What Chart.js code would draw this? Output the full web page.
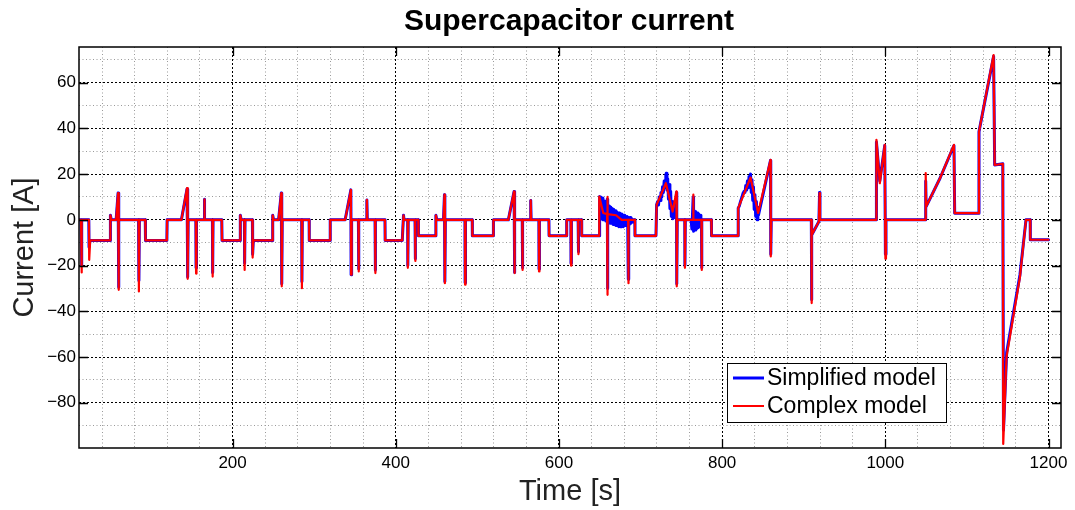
<!DOCTYPE html>
<html>
<head>
<meta charset="utf-8">
<script src="https://cdn.jsdelivr.net/npm/chart.js@4.4.0/dist/chart.umd.min.js"></script>
<style>
  html, body { margin: 0; padding: 0; background: #fff; }
  canvas { display: block; }
</style>
</head>
<body>
<canvas id="chart" width="1075" height="510"></canvas>
<script>
// [time s, current A] for the complex supercapacitor model
const complexModel = [
  [12,0],[14.3,0],[14.8,-23],[15.4,0],[24,0],[24.3,-17.5],[25.5,-9],[50,-9],[50.3,2],[51.3,0],
  [57.3,0],[59.7,11.7],[60.2,-30.6],[60.8,0],[84.8,0],[85.2,-31.3],[85.8,0],[93,0],[93.3,-9],[119.5,-9],
  [119.8,0],[137.3,0],[144.2,13.9],[145,-25.8],[145.6,0],[155,0],[155.3,-23.5],[155.8,0],[165,0],[165.4,9],
  [165.9,0],[175.3,0],[175.6,-24.8],[176.1,0],[186.8,0],[187.1,-9],[209.3,-9],[209.5,2],[210.5,0],[214.5,0],
  [214.8,-21.9],[215.3,0],[224.3,0],[224.6,-16.5],[225.4,-9],[249,-9],[249.2,2],[250.2,0],[256.4,0],[259.7,11.7],
  [260.3,-29.1],[260.9,0],[284.7,0],[285,-29.9],[285.5,0],[293.8,0],[294,-9],[319.5,-9],[319.7,0],[338,0],
  [345,13.1],[345.3,-24],[345.9,0],[354.2,0],[354.4,-22.6],[354.9,0],[364.4,0],[364.6,8.7],[365.1,0],[374.6,0],
  [374.8,-23.3],[375.3,0],[386.8,0],[387,-9],[408,-9],[409.5,2],[410.2,0],[414.6,0],[414.8,-21],[415.3,0],
  [423.6,0],[423.8,-18],[424.3,0],[427.6,0],[427.8,-7],[449,-7],[449.2,2],[450.2,0],[458.5,0],[459.7,11],
  [460.2,-27.7],[460.8,0],[484.8,0],[485,-28.4],[485.5,0],[493.7,0],[493.9,-7],[519.5,-7],[519.7,0],[538,0],
  [545,12.4],[545.4,-23.3],[546,0],[555,0],[555.2,-21.9],[555.7,0],[565.2,0],[565.4,8.5],[565.9,0],[575.4,0],
  [575.6,-22.6],[576.1,0],[587.7,0],[587.9,-7],[609.3,-7],[609.5,0],[614.6,0],[614.8,-20],[615.3,0],[623.5,0],
  [623.7,-15],[624.2,0],[627.7,0],[627.9,-7],[649.2,-7],[649.4,10.2],[654.3,3],[659,2.5],[659.2,10],[659.5,-32.8],
  [660,2.5],[670,2],[676.9,0],[684.8,0],[685,-27.7],[685.5,0],[693,0],[693.2,-7],[718.9,-7],[719.7,6.6],
  [731.1,16],[739.3,3.6],[744,12.4],[744.4,-29.1],[745,0],[754.2,0],[754.4,-21],[754.9,0],[764.3,0],[764.5,11],
  [765,0],[774.6,0],[774.8,-21.9],[775.3,0],[786.8,0],[787,-7],[819.5,-7],[819.7,5.1],[834.8,18.5],[844.1,3],
  [859.3,26.2],[859.6,-16],[860.2,0],[909.3,0],[909.5,-36.4],[910,-6.6],[918.6,-0.7],[919.4,11.7],[919.9,0],[989,0],
  [989.1,35],[993.2,16],[999.3,32.8],[1000.1,-17],[1000.8,0],[1049.3,0],[1049.5,20.4],[1050,5.8],[1067,18.2],[1084.1,32.8],
  [1085,2.9],[1114.4,2.9],[1114.8,38.6],[1132.7,72.1],[1134,24],[1144,24.5],[1144.5,-98],[1148.5,-60],[1165,-25],[1172.4,0],
  [1177.5,0],[1177.7,-8.7],[1200,-8.7]
];

// [time s, current A] for the simplified model (ripples where the converter switches)
const simplifiedModel = [
  [12,0],[14.3,0],[14.8,-20],[15.4,0],[23.8,0],[24.1,-12],[25.3,-9],[50,-9],[50.3,2],[51.3,0],
  [57.3,0],[59.7,11.7],[60.2,-29.5],[60.8,0],[84.8,0],[85.2,-26.5],[85.8,0],[93,0],[93.3,-9],[119.5,-9],
  [119.8,0],[137.3,0],[144.2,13.5],[145,-25],[145.6,0],[155,0],[155.3,-21],[155.8,0],[165,0],[165.4,9],
  [165.9,0],[175.3,0],[175.6,-23],[176.1,0],[186.8,0],[187.1,-9],[209.3,-9],[209.5,2],[210.5,0],[214.5,0],
  [214.8,-19],[215.3,0],[224.3,0],[224.6,-15],[225.4,-9],[249,-9],[249.2,2],[250.2,0],[256.4,0],[259.7,11.7],
  [260.3,-28],[260.9,0],[284.7,0],[285,-27],[285.5,0],[293.8,0],[294,-9],[319.5,-9],[319.7,0],[338,0],
  [345,13.1],[345.3,-24],[345.9,0],[354.2,0],[354.4,-21.5],[354.9,0],[364.4,0],[364.6,8.7],[365.1,0],[374.6,0],
  [374.8,-22],[375.3,0],[386.8,0],[387,-9],[408,-9],[409.5,2],[410.2,0],[414.6,0],[414.8,-20],[415.3,0],
  [423.6,0],[423.8,-17],[424.3,0],[427.6,0],[427.8,-7],[449,-7],[449.2,2],[450.2,0],[458.5,0],[459.7,11],
  [460.2,-27],[460.8,0],[484.8,0],[485,-27.5],[485.5,0],[493.7,0],[493.9,-7],[519.5,-7],[519.7,0],[538,0],
  [545,12.4],[545.4,-23],[546,0],[555,0],[555.2,-21],[555.7,0],[565.2,0],[565.4,8.5],[565.9,0],[575.4,0],
  [575.6,-21.5],[576.1,0],[587.7,0],[587.9,-7],[609.3,-7],[609.5,0],[614.6,0],[614.8,-19],[615.3,0],[623.5,0],
  [623.7,-14],[624.2,0],[627.7,0],[627.9,-7],[649.2,-7],
  [649.4,10.2],[650.3,1],[651.2,10],[652.1,0.5],[653,9.5],[653.9,0],[654.8,8.5],[655.7,0],[656.6,8],[657.5,-0.5],
  [658.4,7.5],[659.2,9],[659.5,-30],[660,6.5],[660.9,-1],[661.8,6],[662.7,-1.5],[663.6,5.5],[664.5,-1.5],[665.4,5],
  [666.3,-2],[667.2,4.5],[668.1,-2],[669,4],[669.9,-2.5],[670.8,3.5],[671.7,-2.5],[672.6,3],[673.5,-3],[674.4,3],
  [675.3,-3],[676.2,2.5],[677.1,-3],[678,2],[678.9,-3],[679.8,2],[680.7,-2.5],[681.6,1.5],[682.5,-2.5],[683.4,1.5],
  [684.3,-2],[685,-26],[685.5,1],[686.4,-2],[687.3,1],[688.2,-1.5],[689.1,0.5],[690,-1],[691,0],[693,0],
  [693.2,-7],[718.9,-7],
  [719.7,6.6],[721,8],[722,6.5],[723,10],[724,8.5],[725,12],[726,10],[727,14.5],[728,12],[729,17],
  [730,14],[731,19.5],[731.5,20.4],[732.4,13],[733.3,18],[734.2,9],[735.1,15.5],[736,5],[736.9,12.5],[737.8,1.5],
  [738.7,8],[739.6,0.5],[740.5,5],[741.4,1],[742.3,3],[743,1],[744,12],[744.4,-28],[745,0],[754.2,0],
  [754.4,-20],[754.9,0],[762,0],[762.9,-4],[763.8,3.5],[764.5,10],[765,-5],[765.9,4],[766.8,-4.5],[767.7,3.5],
  [768.6,-4],[769.5,3],[770.4,-3.5],[771.3,2.5],[772.2,-3],[773.1,2],[774,-2],[774.6,0],[774.8,-21],[775.3,0],
  [786.8,0],[787,-7],[819.5,-7],
  [819.7,5.1],[821,6],[822.5,8],[824,9.5],[825.5,11.5],[827,12.5],[828,12],[829,15],[830,13],[831,17],
  [832,14],[833,19],[834,15.5],[834.8,20],[835.7,12],[836.6,17.5],[837.5,8.5],[838.4,14.5],[839.3,4.5],[840.2,11],
  [841.1,1.5],[842,8],[842.9,0],[843.8,5.5],[844.5,2],[859.3,26],[859.6,-15],[860.2,0],
  [909.3,0],[909.5,-35],[910,-6.6],[918.6,-0.7],[919.4,12],[919.9,0],[989,0],[989.1,34],[993.2,17],[999.3,32.5],
  [1000.1,-15],[1000.8,0],[1049.3,0],[1049.5,17],[1050,5.8],[1067,18.2],[1084.1,32.5],[1085,2.9],[1114.4,2.9],[1114.8,38.6],
  [1132.7,71.5],[1134,24],[1144,24.5],[1144.8,-92],[1148.7,-58],[1165,-24],[1172.4,0],[1177.5,0],[1177.7,-8.7],[1200,-8.7]
];

const seriesLabels = ["Simplified model", "Complex model"];
const xMajorTicks = [200, 400, 600, 800, 1000, 1200];
const yMajorTicks = [-80, -60, -40, -20, 0, 20, 40, 60];
const xMinorStep = 40;
const yMinorStep = 10;

const FONT = "'Liberation Sans', Arial, Helvetica, sans-serif";
Chart.defaults.font.family = FONT;

function stepTicks(min, max, step) {
  const out = [];
  for (let v = Math.ceil(min / step) * step; v <= max; v += step) out.push({ value: v });
  return out;
}

const isMajorX = v => xMajorTicks.includes(v);
const isMajorY = v => yMajorTicks.includes(v);

// box, inward tick marks, titles and legend, drawn like a MATLAB figure
const framePlugin = {
  id: "frame",
  afterDatasetsDraw(chart) {
    const { ctx, chartArea: a, scales: { x, y } } = chart;
    ctx.save();
    ctx.strokeStyle = "#000";
    ctx.lineWidth = 1.5;
    ctx.strokeRect(a.left, a.top, a.right - a.left, a.bottom - a.top);

    ctx.lineWidth = 1.3;
    ctx.beginPath();
    xMajorTicks.forEach(v => {
      const px = Math.round(x.getPixelForValue(v)) + 0.5;
      ctx.moveTo(px, a.bottom); ctx.lineTo(px, a.bottom - 9);
      ctx.moveTo(px, a.top); ctx.lineTo(px, a.top + 9);
    });
    yMajorTicks.forEach(v => {
      const py = Math.round(y.getPixelForValue(v)) + 0.5;
      ctx.moveTo(a.left, py); ctx.lineTo(a.left + 9, py);
      ctx.moveTo(a.right, py); ctx.lineTo(a.right - 9, py);
    });
    ctx.stroke();

    // legend box
    const lx = 727.5, ly = 363.5, lw = 219, lh = 59;
    ctx.fillStyle = "#fff";
    ctx.fillRect(lx, ly, lw, lh);
    ctx.lineWidth = 1;
    ctx.strokeStyle = "#000";
    ctx.strokeRect(lx, ly, lw, lh);
    const rows = [
      { label: seriesLabels[0], color: "#0000ff", width: 3, y: 378 },
      { label: seriesLabels[1], color: "#ff0000", width: 2, y: 406 }
    ];
    ctx.font = "23px " + FONT;
    ctx.textBaseline = "middle";
    ctx.textAlign = "left";
    rows.forEach(r => {
      ctx.strokeStyle = r.color;
      ctx.lineWidth = r.width;
      ctx.beginPath();
      ctx.moveTo(733, r.y); ctx.lineTo(764, r.y);
      ctx.stroke();
      ctx.fillStyle = "#000";
      ctx.fillText(r.label, 767, r.y + 1);
    });
    ctx.restore();
  },
  afterDraw(chart) {
    const { ctx, chartArea: a } = chart;
    ctx.save();
    ctx.fillStyle = "#000";
    ctx.textAlign = "center";
    ctx.textBaseline = "alphabetic";
    ctx.font = "bold 30px " + FONT;
    ctx.fillText("Supercapacitor current", (a.left + a.right) / 2 - 1, 30);

    ctx.fillStyle = "#222";
    ctx.font = "29px " + FONT;
    ctx.fillText("Time [s]", (a.left + a.right) / 2, 500);

    ctx.translate(33, (a.top + a.bottom) / 2);
    ctx.rotate(-Math.PI / 2);
    ctx.fillText("Current [A]", 0, 0);
    ctx.restore();
  }
};

new Chart(document.getElementById("chart"), {
  type: "line",
  data: {
    datasets: [
      {
        label: seriesLabels[0],
        data: simplifiedModel.map(([t, i]) => ({ x: t, y: i })),
        borderColor: "#0000ff",
        borderWidth: 3,
        order: 1
      },
      {
        label: seriesLabels[1],
        data: complexModel.map(([t, i]) => ({ x: t, y: i })),
        borderColor: "#ff0000",
        borderWidth: 2.2,
        order: 0
      }
    ]
  },
  options: {
    responsive: false,
    animation: false,
    layout: { padding: { top: 47, right: 14, left: 0, bottom: 0 } },
    elements: {
      point: { radius: 0 },
      line: { tension: 0, fill: false, borderJoinStyle: "round", borderCapStyle: "round" }
    },
    plugins: {
      legend: { display: false },
      tooltip: { enabled: false },
      title: { display: false }
    },
    scales: {
      x: {
        type: "linear",
        min: 11.8,
        max: 1215.3,
        afterBuildTicks: s => { s.ticks = stepTicks(s.min, s.max, xMinorStep); },
        afterFit: s => { s.height = 62; },
        grid: {
          drawTicks: false,
          lineWidth: 1,
          color: c => (c.tick && isMajorX(c.tick.value) ? "#000" : "#9a9a9a")
        },
        border: {
          display: false,
          dash: c => (c.tick && isMajorX(c.tick.value) ? [2, 2] : [1, 2.5])
        },
        ticks: {
          autoSkip: false,
          maxRotation: 0,
          padding: 5,
          color: "#000",
          font: { size: 17 },
          callback: v => (isMajorX(v) ? String(v) : "")
        }
      },
      y: {
        type: "linear",
        min: -99.8,
        max: 75.6,
        afterBuildTicks: s => { s.ticks = stepTicks(s.min, s.max, yMinorStep); },
        afterFit: s => { s.width = 79; },
        grid: {
          drawTicks: false,
          lineWidth: 1,
          color: c => (c.tick && isMajorY(c.tick.value) ? "#000" : "#9a9a9a")
        },
        border: {
          display: false,
          dash: c => (c.tick && isMajorY(c.tick.value) ? [2, 2] : [1, 2.5])
        },
        ticks: {
          autoSkip: false,
          padding: 3,
          color: "#000",
          font: { size: 17 },
          callback: v => (isMajorY(v) ? (v < 0 ? "\u2212" + Math.abs(v) : String(v)) : "")
        }
      }
    }
  },
  plugins: [framePlugin]
});
</script>
</body>
</html>
